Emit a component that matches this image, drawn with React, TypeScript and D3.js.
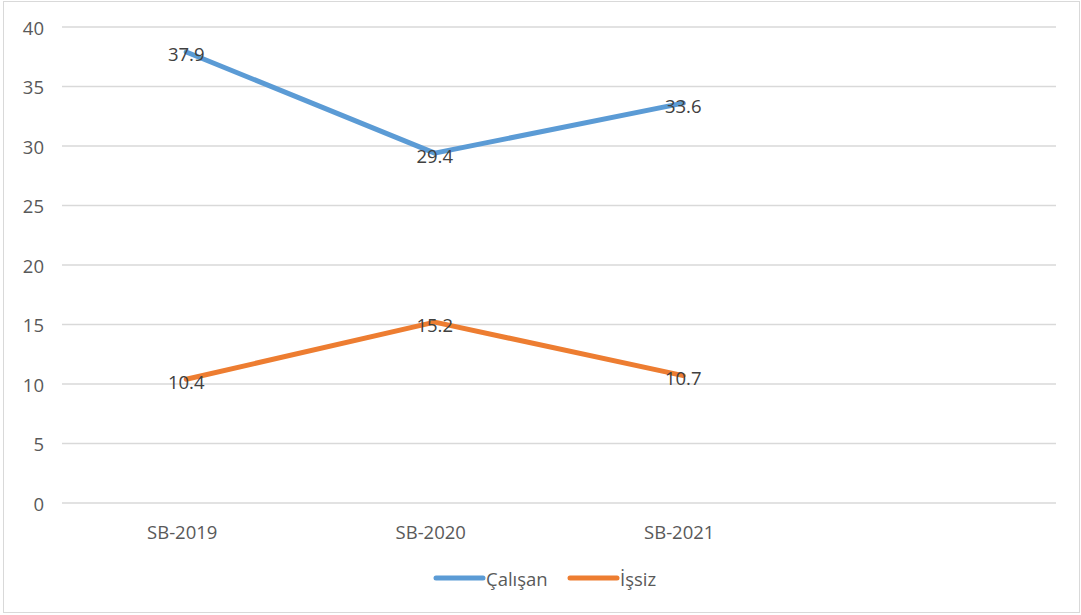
import React from "react";
import * as d3 from "d3";

const categories = ["SB-2019", "SB-2020", "SB-2021", ""];
const calisan = [37.9, 29.4, 33.6];
const issiz = [10.4, 15.2, 10.7];
const yTicks = [0, 5, 10, 15, 20, 25, 30, 35, 40];
const seriesNames = ["Çalışan", "İşsiz"];
const seriesColors = ["#5B9BD5", "#ED7D31"];

const W = 1081;
const H = 615;
const FONT = "'Open Sans', 'Noto Sans', sans-serif";

export default function App() {
  const x = d3.scaleBand<string>().domain(categories.map((c, i) => String(i))).range([62, 1056]);
  const y = d3.scaleLinear().domain([0, 40]).range([503, 27]);
  const cx = (i: number) => (x(String(i)) as number) + x.bandwidth() / 2;
  const line = d3
    .line<number>()
    .x((_, i) => cx(i))
    .y((d) => y(d));
  const series = [calisan, issiz];

  return (
    <div style={{ position: "absolute", left: 0, top: 0 }}>
      <svg width={W} height={H} style={{ display: "block", fontFamily: FONT }}>
        <rect x={0} y={0} width={W} height={H} fill="#fff" />
        <rect x={3.5} y={1.5} width={1076} height={611} fill="none" stroke="#d9d9d9" strokeWidth={1} />
        {yTicks.map((t) => (
          <g key={t}>
            <line x1={62} x2={1056} y1={y(t)} y2={y(t)} stroke="#d9d9d9" strokeWidth={1.5} />
            <text x={44} y={y(t)} textAnchor="end" dominantBaseline="central" fontSize={18.5} fill="#595959">
              {t}
            </text>
          </g>
        ))}
        {categories.map((c, i) =>
          c ? (
            <text key={c} x={cx(i) - 4} y={531} textAnchor="middle" dominantBaseline="central" fontSize={18.5} fill="#595959">
              {c}
            </text>
          ) : null
        )}
        {series.map((s, si) => (
          <path key={si} d={line(s) || ""} fill="none" stroke={seriesColors[si]} strokeWidth={5} strokeLinecap="round" strokeLinejoin="round" />
        ))}
        {series.map((s, si) =>
          s.map((v, i) => (
            <text key={si + "-" + i} x={cx(i)} y={y(v) + 2} textAnchor="middle" dominantBaseline="central" fontSize={18.5} fill="#404040">
              {v.toFixed(1)}
            </text>
          ))
        )}
        {seriesNames.map((n, i) => {
          const lx = i === 0 ? 436 : 570;
          return (
            <g key={n}>
              <line x1={lx} x2={lx + 47} y1={578} y2={578} stroke={seriesColors[i]} strokeWidth={5} strokeLinecap="round" />
              <text x={lx + 50} y={578} dominantBaseline="central" fontSize={18.5} fill="#595959">
                {n}
              </text>
            </g>
          );
        })}
      </svg>
    </div>
  );
}
